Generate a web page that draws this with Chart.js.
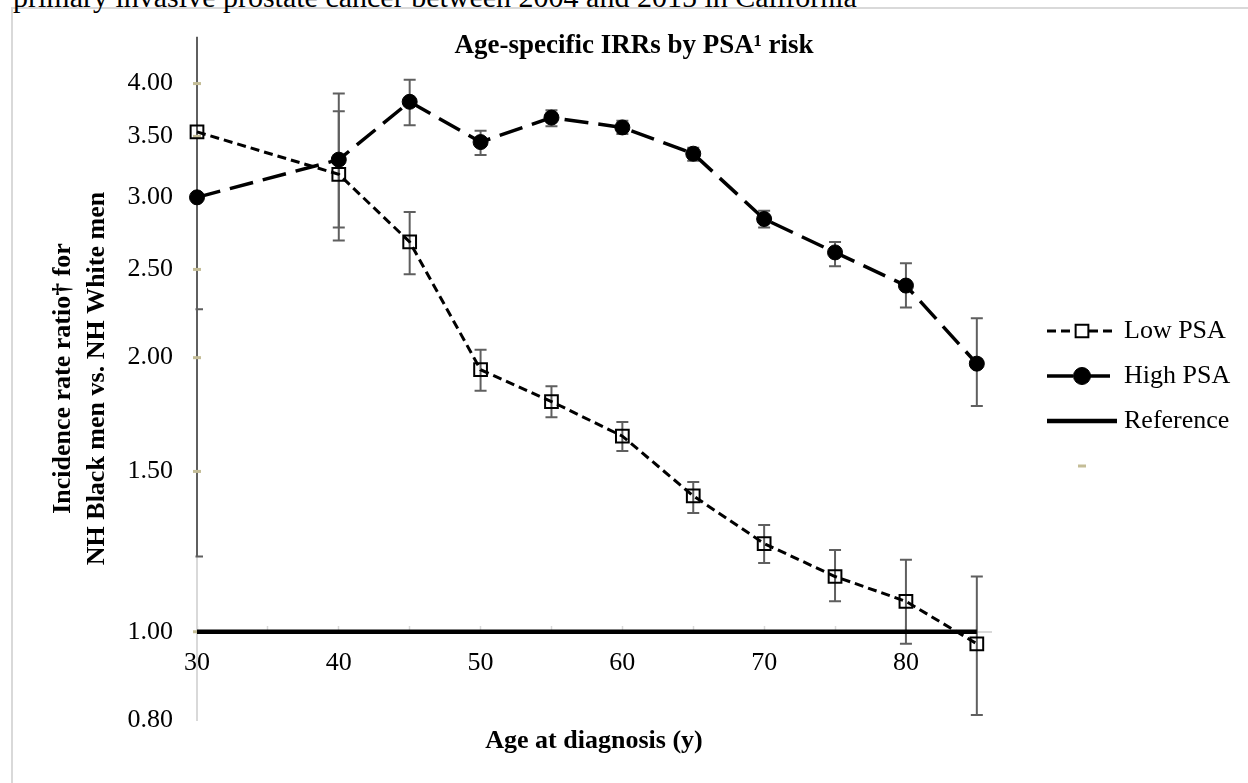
<!DOCTYPE html>
<html>
<head>
<meta charset="utf-8">
<script src="https://cdn.jsdelivr.net/npm/chart.js@4.4.1/dist/chart.umd.min.js"></script>
<style>
html, body { margin: 0; padding: 0; background: #fff; overflow: hidden; }
#wrap { position: relative; width: 1248px; height: 783px; overflow: hidden; }
#caption { position: absolute; left: 13px; top: -17.6px; font: 30px "Liberation Serif", "Times New Roman", serif; line-height: 30px; white-space: nowrap; color: #000; }
#frame { position: absolute; left: 11px; top: 7px; width: 1400px; height: 900px; border: 2px solid #d9d9d9; }
#chart { position: absolute; left: 0; top: 0; }
</style>
</head>
<body>
<div id="wrap">
  <div id="frame"></div>
  <div id="caption">primary invasive prostate cancer between 2004 and 2015 in California</div>
  <canvas id="chart" width="1248" height="783"></canvas>
</div>
<script>
// edades (años) e IRR por grupo de PSA
var ages = [30, 40, 45, 50, 55, 60, 65, 70, 75, 80, 85];

var lowPsa      = [3.54, 3.18, 2.68, 1.94, 1.79, 1.64, 1.41, 1.25, 1.15, 1.08, 0.97];
var lowPsaLower = [1.21, 2.69, 2.47, 1.84, 1.72, 1.58, 1.35, 1.19, 1.08, 0.97, 0.81];
var lowPsaUpper = [6.50, 3.90, 2.89, 2.04, 1.86, 1.70, 1.46, 1.31, 1.23, 1.20, 1.15];

var highPsa      = [3.00, 3.30, 3.82, 3.45, 3.67, 3.58, 3.35, 2.84, 2.61, 2.40, 1.97];
var highPsaLower = [2.26, 2.78, 3.60, 3.34, 3.59, 3.52, 3.29, 2.78, 2.52, 2.27, 1.77];
var highPsaUpper = [4.90, 3.73, 4.04, 3.55, 3.74, 3.64, 3.40, 2.90, 2.68, 2.54, 2.21];

var referenceAges = [30, 85];
var referenceIrr = [1, 1];

// marcas sobre el eje y
var axisMarks = [1.0, 1.5, 2.0, 2.5, 3.0, 3.5, 4.0];

var yTicks = [0.8, 1.0, 1.5, 2.0, 2.5, 3.0, 3.5, 4.0];
var xTicks = [30, 35, 40, 45, 50, 55, 60, 65, 70, 75, 80, 85];

var serif = '"Liberation Serif", "Times New Roman", serif';
Chart.defaults.font.family = serif;
Chart.defaults.color = '#000';

function toPoints(xs, ys) {
    return xs.map(function(x, i) { return { x: x, y: ys[i] }; });
}

function drawMarker(ctx, style, x, y, r, fill, stroke, width) {
    ctx.save();
    ctx.setLineDash([]);
    ctx.lineWidth = width;
    ctx.strokeStyle = stroke;
    ctx.fillStyle = fill;
    ctx.beginPath();
    if (style === 'circle') {
        ctx.arc(x, y, r, 0, Math.PI * 2);
    } else if (style === 'rect') {
        var s = r * Math.SQRT1_2;
        ctx.rect(x - s, y - s, 2 * s, 2 * s);
    } else {
        ctx.moveTo(x - r, y);
        ctx.lineTo(x + r, y);
    }
    if (style !== 'line') ctx.fill();
    ctx.stroke();
    ctx.restore();
}

// barras de error (IC 95%), recortadas al área del gráfico
var errorBars = {
    id: 'errorBars',
    beforeDatasetsDraw: function(chart) {
        var ctx = chart.ctx, area = chart.chartArea;
        var xs = chart.scales.x, ys = chart.scales.y;
        ctx.save();
        ctx.beginPath();
        ctx.rect(area.left - 1.5, area.top, area.right - area.left + 1.5, area.bottom - area.top);
        ctx.clip();
        ctx.strokeStyle = '#5f5f5f';
        ctx.lineWidth = 2;
        chart.data.datasets.forEach(function(ds) {
            if (!ds.errLower) return;
            ds.data.forEach(function(p, i) {
                var px = xs.getPixelForValue(p.x);
                var lo = ys.getPixelForValue(ds.errLower[i]);
                var hi = ys.getPixelForValue(ds.errUpper[i]);
                ctx.beginPath();
                ctx.moveTo(px, lo); ctx.lineTo(px, hi);
                ctx.moveTo(px - 6, lo); ctx.lineTo(px + 6, lo);
                ctx.moveTo(px - 6, hi); ctx.lineTo(px + 6, hi);
                ctx.stroke();
            });
        });
        ctx.restore();
    }
};

// título del gráfico
var chartTitle = {
    id: 'chartTitle',
    afterDraw: function(chart) {
        var ctx = chart.ctx;
        ctx.save();
        ctx.font = 'bold 27px ' + serif;
        ctx.fillStyle = '#000';
        ctx.textAlign = 'center';
        ctx.textBaseline = 'alphabetic';
        ctx.fillText('Age-specific IRRs by PSA\u00b9 risk', 634, 53);
        ctx.restore();
    }
};

// leyenda a la derecha: muestra de línea + marcador + texto
var sideLegend = {
    id: 'sideLegend',
    afterDraw: function(chart) {
        var ctx = chart.ctx;
        var x0 = 1047, len = 70, textX = 1124, top = 331, step = 45;
        chart.data.datasets.forEach(function(ds, i) {
            var y = top + i * step;
            if (ds.showLine !== false) {
                ctx.save();
                ctx.strokeStyle = ds.borderColor;
                ctx.lineWidth = ds.borderWidth;
                ctx.setLineDash(ds.legendDash || ds.borderDash || []);
                ctx.beginPath();
                ctx.moveTo(x0, y);
                ctx.lineTo(x0 + len, y);
                ctx.stroke();
                ctx.restore();
            }
            if (ds.pointRadius > 0) {
                drawMarker(ctx, ds.pointStyle, x0 + len / 2, y, ds.legendRadius || ds.pointRadius,
                    ds.legendFill || ds.pointBackgroundColor, ds.pointBorderColor, ds.pointBorderWidth);
            }
            if (ds.label) {
                ctx.save();
                ctx.font = '26px ' + serif;
                ctx.fillStyle = '#000';
                ctx.textAlign = 'left';
                ctx.textBaseline = 'middle';
                ctx.fillText(ds.label, textX, y);
                ctx.restore();
            }
        });
    }
};

var chart = new Chart(document.getElementById('chart'), {
    type: 'line',
    data: {
        datasets: [{
            label: 'Low PSA',
            data: toPoints(ages, lowPsa),
            errLower: lowPsaLower,
            errUpper: lowPsaUpper,
            borderColor: '#000',
            borderWidth: 3,
            borderDash: [9, 5],
            pointStyle: 'rect',
            pointRadius: 9,
            pointBorderWidth: 2,
            pointBorderColor: '#000',
            pointBackgroundColor: 'rgba(0,0,0,0)',
            legendFill: '#fff',
            tension: 0,
            clip: false
        }, {
            label: 'High PSA',
            data: toPoints(ages, highPsa),
            errLower: highPsaLower,
            errUpper: highPsaUpper,
            borderColor: '#000',
            borderWidth: 3.5,
            borderDash: [24, 10],
            legendDash: [26, 17, 20, 20],
            pointStyle: 'circle',
            pointRadius: 7.5,
            legendRadius: 8.5,
            pointBorderWidth: 1,
            pointBorderColor: '#000',
            pointBackgroundColor: '#000',
            tension: 0,
            clip: false
        }, {
            label: 'Reference',
            data: toPoints(referenceAges, referenceIrr),
            borderColor: '#000',
            borderWidth: 4.5,
            pointRadius: 0,
            tension: 0
        }, {
            label: '',
            data: axisMarks.map(function(v) { return { x: 30, y: v }; }),
            showLine: false,
            pointStyle: 'line',
            pointRadius: 4,
            pointBorderWidth: 3,
            pointBorderColor: '#c4bd97',
            pointBackgroundColor: '#c4bd97',
            clip: false
        }]
    },
    options: {
        responsive: false,
        animation: false,
        layout: { padding: { left: 0, top: 37, right: 257, bottom: 0 } },
        plugins: {
            legend: { display: false },
            tooltip: { enabled: false }
        },
        scales: {
            x: {
                type: 'linear',
                min: 30,
                max: 86,
                position: { y: 1 },
                afterBuildTicks: function(scale) {
                    scale.ticks = xTicks.map(function(v) { return { value: v }; });
                },
                ticks: {
                    autoSkip: false,
                    maxRotation: 0,
                    padding: 23,
                    font: { size: 26 },
                    callback: function(v) { return v % 10 === 0 ? String(v) : ''; }
                },
                grid: {
                    display: true,
                    drawOnChartArea: false,
                    drawTicks: true,
                    tickLength: -7,
                    tickWidth: 1.5,
                    tickColor: '#d9d9d9'
                },
                border: { color: '#d9d9d9', width: 2 }
            },
            x2: {
                type: 'linear',
                axis: 'x',
                min: 30,
                max: 86,
                position: 'bottom',
                ticks: { display: false },
                grid: { display: false, drawTicks: false },
                border: { display: false },
                title: {
                    display: true,
                    text: 'Age at diagnosis (y)',
                    font: { size: 26, weight: 'bold' },
                    padding: { top: 5.4, bottom: 26.4 }
                }
            },
            y: {
                type: 'logarithmic',
                min: 0.8,
                max: 4.5,
                afterBuildTicks: function(scale) {
                    scale.ticks = yTicks.map(function(v) { return { value: v }; });
                },
                afterFit: function(scale) { scale.width = 197; },
                ticks: {
                    autoSkip: false,
                    padding: 6,
                    font: { size: 26 },
                    callback: function(v) { return Number(v).toFixed(2); }
                },
                grid: {
                    display: true,
                    drawOnChartArea: false,
                    drawTicks: true,
                    tickLength: 18,
                    tickColor: 'rgba(0,0,0,0)'
                },
                border: { color: '#d9d9d9', width: 2 },
                title: {
                    display: true,
                    text: ['Incidence rate ratio\u2020 for', 'NH Black men vs. NH White men'],
                    font: { size: 26, weight: 'bold', lineHeight: '34px' },
                    padding: { top: 46, bottom: 0 }
                }
            }
        }
    },
    plugins: [errorBars, chartTitle, sideLegend]
});
</script>
</body>
</html>
